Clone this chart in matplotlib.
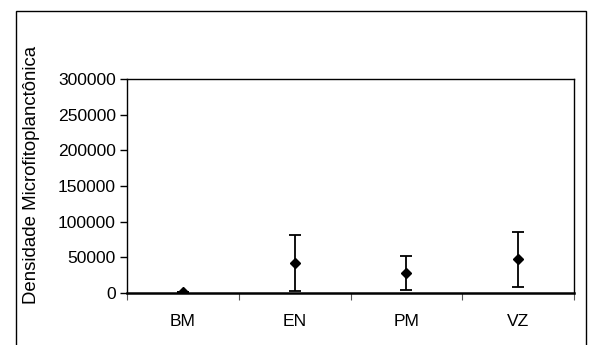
import matplotlib
matplotlib.use("Agg")
import matplotlib.pyplot as plt
from matplotlib.patches import Rectangle

# Phytoplankton density by site (mean ± standard deviation)
sites = ["BM", "EN", "PM", "VZ"]
density_mean = [1500, 42000, 28000, 47000]
density_sd = [600, 38700, 24300, 38600]
y_ticks = [0, 50000, 100000, 150000, 200000, 250000, 300000]

plt.rcParams["font.family"] = ["Liberation Sans", "DejaVu Sans"]

W, H = 592, 345
fig = plt.figure(figsize=(W / 100, H / 100), dpi=100)

# outer chart-area frame (its bottom edge runs off the image)
fig.patches.append(Rectangle((16 / W, -0.05), (586 - 16) / W, 1 - 11 / H + 0.05,
                             transform=fig.transFigure, fill=False,
                             edgecolor="black", linewidth=1.0))

left, right, top, bottom = 127, 574, 79, 293
ax = fig.add_axes([left / W, 1 - bottom / H, (right - left) / W, (bottom - top) / H])

x = list(range(len(sites)))
ax.errorbar(x, density_mean, yerr=density_sd, fmt="D", color="black",
            markersize=5, ecolor="black", elinewidth=1.3, capsize=4.5,
            capthick=1.3)

ax.set_xlim(-0.5, len(sites) - 0.5)
ax.set_ylim(0, 300000)
ax.set_yticks(y_ticks)
ax.set_yticklabels([str(v) for v in y_ticks], fontsize=12.6)

ax.set_xticks([i + 0.5 for i in range(len(sites) - 1)] + [-0.5, len(sites) - 0.5])
ax.set_xticklabels([])
ax.set_xticks(x, minor=True)
ax.set_xticklabels(sites, minor=True, fontsize=12.6)
ax.tick_params(axis="x", which="minor", length=0, pad=15)
ax.tick_params(axis="x", which="major", direction="out", length=5, width=0.8,
               color="#555555")
ax.tick_params(axis="y", direction="out", length=5, width=1.0, pad=3)

for side in ("top", "right", "left"):
    ax.spines[side].set_linewidth(1.0)
ax.spines["bottom"].set_linewidth(1.8)

fig.text(32 / W, 1 - 175 / H, "Densidade Microfitoplanctônica", rotation=90,
         ha="center", va="center", fontsize=13.4)

fig.savefig("out.png", dpi=100)
